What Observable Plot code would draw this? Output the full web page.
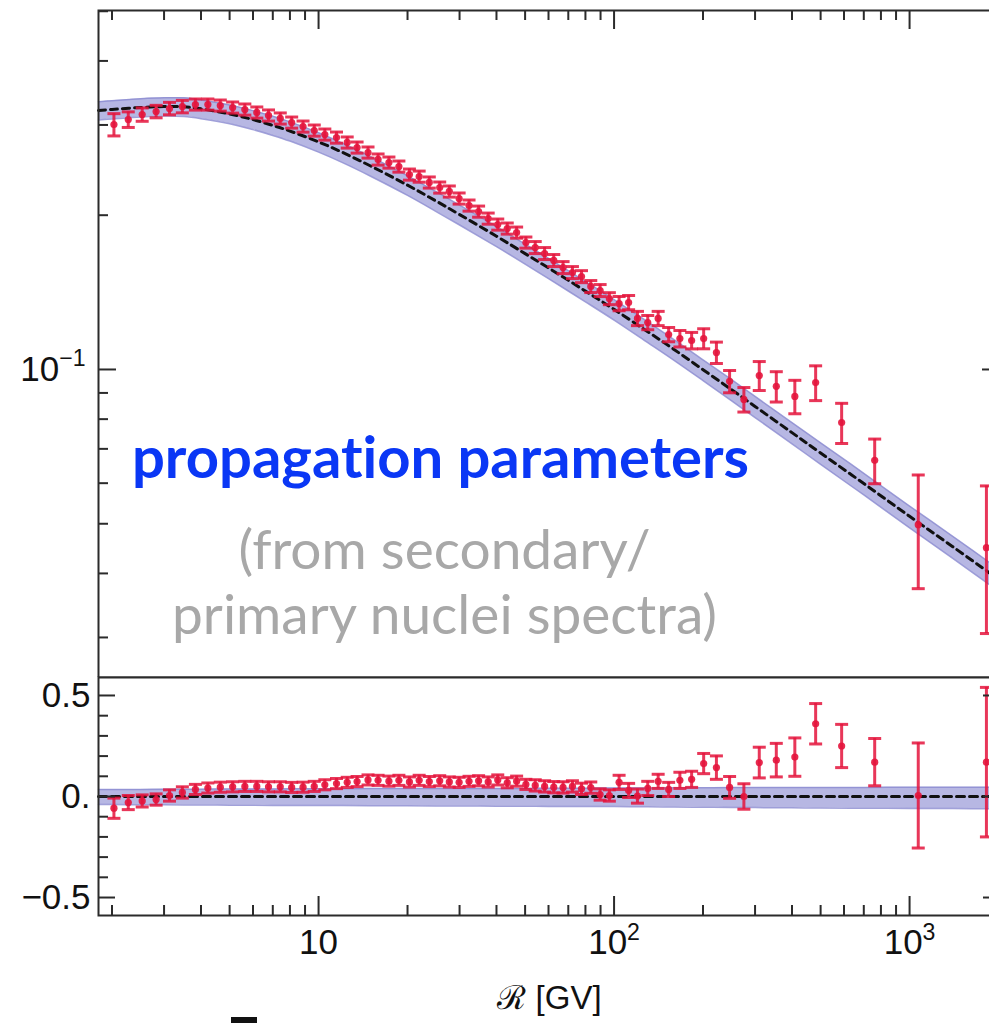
<!DOCTYPE html>
<html><head><meta charset="utf-8">
<script src="https://cdn.jsdelivr.net/npm/d3@7"></script>
<script src="https://cdn.jsdelivr.net/npm/@observablehq/plot@0.6"></script>
<style>
html,body{margin:0;padding:0;background:#fff;overflow:hidden;}
#wrap{position:relative;width:989px;height:1023px;overflow:hidden;}
#wrap svg{display:block;max-width:none !important;position:relative;}
#wrap svg.lower{margin-top:-30px;}
#wrap text{font-variant-ligatures:none;}
#mark{position:absolute;left:231px;top:1017px;width:26px;height:8px;background:#111;}
</style></head><body><div id="wrap"><div id="mark"></div></div>
<script>
// ---------- data ----------
const R = [2.03, 2.27, 2.53, 2.82, 3.13, 3.46, 3.83, 4.22, 4.65, 5.12, 5.63, 6.18, 6.77, 7.42, 8.11, 8.86, 9.67,
  10.5, 11.5, 12.5, 13.5, 14.7, 15.9, 17.3, 18.7, 20.3, 21.9, 23.7, 25.7, 27.7, 29.9, 32.3, 34.8, 37.5, 40.4, 43.5, 46.8,
  50.3, 54.1, 58.2, 62.5, 67.2, 72.3, 77.6, 83.4, 89.7, 96.4, 104, 112, 120, 130, 141, 153, 167, 183, 201, 222, 246, 275,
  310, 354, 409, 481, 589, 762, 1070, 1820];
const ratio = [0.3006, 0.3074, 0.3144, 0.3187, 0.3230, 0.3259, 0.3289, 0.3289, 0.3274, 0.3245, 0.3216, 0.3173, 0.3131,
  0.3089, 0.3033, 0.2979, 0.2926, 0.2874, 0.2835, 0.2773, 0.2711, 0.2651, 0.2569, 0.2534, 0.2489, 0.2401, 0.2379, 0.2317,
  0.2265, 0.2225, 0.2156, 0.2089, 0.2033, 0.1970, 0.1918, 0.1884, 0.1850, 0.1769, 0.1730, 0.1684, 0.1632, 0.1581, 0.1546,
  0.1518, 0.1452, 0.1426, 0.1375, 0.1345, 0.1351, 0.1258, 0.1235, 0.1258, 0.1170, 0.1149, 0.1139, 0.1149, 0.1079, 0.0948,
  0.0874, 0.0973, 0.0927, 0.0886, 0.0943, 0.0788, 0.0665, 0.0498, 0.0449];
const ratioRelErr = [0.050, 0.035, 0.030, 0.028, 0.028, 0.028,
  0.025, 0.025, 0.025, 0.025, 0.025, 0.025, 0.025, 0.025,
  0.025, 0.025, 0.025, 0.025, 0.025, 0.025, 0.025, 0.025,
  0.025, 0.025, 0.025, 0.025, 0.025, 0.025, 0.025, 0.025,
  0.025, 0.025, 0.025, 0.025, 0.025, 0.025, 0.025, 0.025,
  0.027, 0.027, 0.027, 0.027, 0.027, 0.027, 0.027, 0.027, 0.027,
  0.032, 0.032, 0.032, 0.032, 0.032, 0.032,
  0.037, 0.037,
  0.045, 0.048, 0.050, 0.055, 0.065, 0.068, 0.075, 0.078, 0.090, 0.100, 0.250, 0.320];
const resid = [-0.058, -0.030, -0.022, -0.015, 0.005, 0.020, 0.035, 0.042, 0.046, 0.048, 0.050, 0.050, 0.048, 0.048,
  0.045, 0.046, 0.050, 0.058, 0.064, 0.070, 0.074, 0.082, 0.080, 0.076, 0.080, 0.072, 0.080, 0.074, 0.078, 0.072, 0.070,
  0.075, 0.078, 0.072, 0.082, 0.068, 0.076, 0.060, 0.055, 0.050, 0.046, 0.045, 0.050, 0.038, 0.044, 0.010, 0.005, 0.070,
  0.030, 0.002, 0.040, 0.075, 0.035, 0.080, 0.085, 0.163, 0.143, 0.045, 0.000, 0.168, 0.180, 0.195, 0.360, 0.250, 0.170,
  0.005, 0.170];
const residErr = [0.050, 0.035, 0.030, 0.028, 0.028, 0.028,
  0.025, 0.025, 0.025, 0.025, 0.025, 0.025, 0.025, 0.025,
  0.025, 0.025, 0.025, 0.025, 0.025, 0.025, 0.025, 0.025,
  0.025, 0.025, 0.025, 0.025, 0.025, 0.025, 0.025, 0.025,
  0.025, 0.025, 0.025, 0.025, 0.025, 0.025, 0.025, 0.025,
  0.028, 0.028, 0.028, 0.028, 0.028, 0.028, 0.028, 0.028, 0.028,
  0.035, 0.035, 0.035, 0.035, 0.035, 0.035,
  0.040, 0.040,
  0.050, 0.058, 0.054, 0.063, 0.076, 0.083, 0.095, 0.100, 0.107, 0.117, 0.260, 0.370];

// model curve (dashed line + band)
const modelR = [1.8, 2, 2.5, 3, 3.5, 4, 5, 6, 7, 8, 10, 12, 15, 20, 25, 30, 40, 50, 60, 80, 100, 130, 160, 200, 250, 300,
  400, 500, 700, 1000, 1400, 2031];
const modelVal = [0.3202, 0.3216, 0.3245, 0.3259, 0.3255, 0.3225, 0.3153, 0.3073, 0.2994, 0.2919, 0.2780, 0.2655, 0.2495,
  0.2289, 0.2131, 0.2006, 0.1820, 0.1683, 0.1578, 0.1422, 0.1310, 0.1185, 0.1093, 0.0999, 0.0913, 0.0847, 0.0753, 0.0687,
  0.0599, 0.0517, 0.0451, 0.0387];
const bandLoRel = [0.042, 0.042, 0.042, 0.042, 0.043, 0.043, 0.043, 0.044, 0.044, 0.044, 0.045, 0.045, 0.045, 0.045,
  0.046, 0.046, 0.046, 0.046, 0.047, 0.047, 0.047, 0.048, 0.048, 0.048, 0.049, 0.049, 0.049, 0.050, 0.050, 0.051, 0.051, 0.052];
const bandHiRel = [0.040, 0.040, 0.040, 0.040, 0.041, 0.041, 0.041, 0.041, 0.042, 0.042, 0.042, 0.042, 0.043, 0.043,
  0.043, 0.043, 0.044, 0.044, 0.044, 0.044, 0.045, 0.045, 0.045, 0.045, 0.046, 0.046, 0.046, 0.047, 0.047, 0.047, 0.048, 0.048];
const resModel = [0, 0, 0, 0, 0, 0, 0, 0, 0, 0, 0, 0, 0, 0, 0, 0, 0, 0, 0, 0, 0, 0, 0, 0, 0, 0, 0, 0, 0, 0, 0, 0];
const resBandLo = [-0.040, -0.040, -0.041, -0.041, -0.042, -0.042, -0.043, -0.043, -0.044, -0.044, -0.045, -0.045, -0.046,
  -0.046, -0.047, -0.047, -0.048, -0.048, -0.049, -0.049, -0.050, -0.051, -0.052, -0.053, -0.054, -0.055, -0.056, -0.057,
  -0.058, -0.059, -0.060, -0.060];
const resBandHi = [0.035, 0.035, 0.035, 0.036, 0.036, 0.036, 0.037, 0.037, 0.037, 0.038, 0.038, 0.038, 0.039, 0.039, 0.039,
  0.040, 0.040, 0.040, 0.041, 0.041, 0.042, 0.042, 0.043, 0.043, 0.044, 0.044, 0.045, 0.045, 0.045, 0.046, 0.046, 0.046];

// scales & ticks
const xDomain = [1.8, 2031];
const topYDomain = [0.02506, 0.5017];
const resYDomain = [-0.589, 0.589];
const xMajorTicks = [10, 100, 1000];
const xTickLabels = ["10", "10^2", "10^3"];
const xMinorTicks = [2, 3, 4, 5, 6, 7, 8, 9, 20, 30, 40, 50, 60, 70, 80, 90, 200, 300, 400, 500, 600, 700, 800, 900, 2000];
const topYMajorTicks = [0.1];
const topYTickLabels = ["10^\u22121"];
const topYMinorTicks = [0.03, 0.04, 0.05, 0.06, 0.07, 0.08, 0.09, 0.2, 0.3, 0.4, 0.5];
const resYMajorTicks = [-0.5, 0, 0.5];
const resYTickLabels = ["\u22120.5", "0.", "0.5"];
const resYMinorTicks = [-0.4, -0.3, -0.2, -0.1, 0.1, 0.2, 0.3, 0.4];
const noteBlue = ["propagation parameters"];
const noteGrey = ["(from secondary/\nprimary nuclei spectra)"];
const xTitle = ["\u211B [GV]"];

// ---------- styles ----------
const RED = "#e4143c", AX = "#2b2b2b", BAND = "#a5a5dc", BANDEDGE = "#8a8ad0";
const FONT = "'Liberation Sans', Arial, Helvetica, sans-serif";
const W = 1010, ML = 98, MR = 10, PW = W - ML - MR;
const TOP_H = 677, TOP_MT = 10, TOP_PH = TOP_H - TOP_MT;
const BOT_MT = 30, BOT_PH = 238, BOT_MB = 108;
const MINOR = 10, MAJOR = 18, XMAJOR = 19;
const TICKFONT = 35;

const pts = R.map((r, i) => ({r, v: ratio[i], e: ratioRelErr[i], res: resid[i], re: residErr[i]}));
const model = modelR.map((r, i) => ({r, m: modelVal[i], lo: modelVal[i] * (1 - bandLoRel[i]), hi: modelVal[i] * (1 + bandHiRel[i]),
  rm: resModel[i], rlo: resBandLo[i], rhi: resBandHi[i]}));

const cap = {draw(ctx, size) { const w = Math.sqrt(size / Math.PI); ctx.moveTo(-w, 0); ctx.lineTo(w, 0); }};
const lookup = (keys, labels) => { const m = new Map(keys.map((k, i) => [k, labels[i]])); return d => m.get(d); };

function supify(svg) {
  d3.select(svg).selectAll("text").each(function () {
    const t = this.textContent;
    if (t.includes("^") && this.children.length === 0) {
      const [b, e] = t.split("^");
      const s = d3.select(this); s.text(null);
      s.append("tspan").text(b);
      s.append("tspan").attr("font-size", "0.66em").attr("dy", "-0.62em").text(e);
    }
  });
}

const curve = "catmull-rom";
const errMarks = (y1, y2, y) => [
  Plot.ruleX(pts, {x: "r", y1, y2, stroke: RED, strokeWidth: 3, strokeOpacity: 0.85}),
  Plot.dot(pts, {x: "r", y: y1, symbol: cap, r: 6.5, stroke: RED, strokeWidth: 3, strokeOpacity: 0.85, fill: "none"}),
  Plot.dot(pts, {x: "r", y: y2, symbol: cap, r: 6.5, stroke: RED, strokeWidth: 3, strokeOpacity: 0.85, fill: "none"}),
  Plot.dot(pts, {x: "r", y, r: 3.6, fill: RED, fillOpacity: 0.9})
];
const tk = {stroke: AX, strokeWidth: 2};

const topChart = Plot.plot({
  width: W, height: TOP_H, marginTop: TOP_MT, marginBottom: 0, marginLeft: ML, marginRight: MR,
  style: {background: "transparent", fontFamily: FONT, color: "#111"},
  x: {type: "log", domain: xDomain, axis: null},
  y: {type: "log", domain: topYDomain},
  marks: [
    Plot.areaY(model, {x: "r", y1: "lo", y2: "hi", fill: BAND, fillOpacity: 0.8, curve}),
    Plot.line(model, {x: "r", y: "lo", stroke: BANDEDGE, strokeWidth: 1.5, strokeOpacity: 0.8, curve}),
    Plot.line(model, {x: "r", y: "hi", stroke: BANDEDGE, strokeWidth: 1.5, strokeOpacity: 0.8, curve}),
    Plot.line(model, {x: "r", y: "m", stroke: "#111", strokeWidth: 3, strokeDasharray: "7,5", curve}),
    ...errMarks(d => d.v * (1 - d.e), d => d.v * (1 + d.e), "v"),
    Plot.tickY(topYMinorTicks, {y: d => d, insetRight: PW - MINOR, ...tk}),
    Plot.tickY(topYMinorTicks, {y: d => d, insetLeft: PW - MINOR, ...tk}),
    Plot.tickY(topYMajorTicks, {y: d => d, insetRight: PW - MAJOR, ...tk}),
    Plot.tickY(topYMajorTicks, {y: d => d, insetLeft: PW - MAJOR, ...tk}),
    Plot.tickX(xMinorTicks, {x: d => d, insetBottom: TOP_PH - MINOR, ...tk}),
    Plot.tickX(xMajorTicks, {x: d => d, insetBottom: TOP_PH - XMAJOR, ...tk}),
    Plot.frame({stroke: AX, strokeWidth: 2}),
    Plot.axisY(topYMajorTicks, {tickSize: 0, tickPadding: 13, fontSize: TICKFONT, label: null, tickFormat: lookup(topYMajorTicks, topYTickLabels)}),
    Plot.text(noteBlue, {frameAnchor: "top", dx: -109, dy: 467, lineAnchor: "bottom", textAnchor: "middle",
      fill: "#0a37f5", fontSize: 58, fontWeight: "bold", fontFamily: "Lato, 'Open Sans', sans-serif"}),
    Plot.text(noteGrey, {frameAnchor: "top", dx: -105, dy: 623, lineAnchor: "bottom", textAnchor: "middle", lineHeight: 1.18,
      fill: "#a8a8a8", fontSize: 55, fontFamily: "Lato, 'Open Sans', sans-serif"})
  ]
});

const bottomChart = Plot.plot({
  width: W, height: BOT_MT + BOT_PH + BOT_MB, marginTop: BOT_MT, marginBottom: BOT_MB, marginLeft: ML, marginRight: MR,
  className: "lower",
  style: {background: "transparent", fontFamily: FONT, color: "#111"},
  x: {type: "log", domain: xDomain},
  y: {domain: resYDomain},
  marks: [
    Plot.areaY(model, {x: "r", y1: "rlo", y2: "rhi", fill: BAND, fillOpacity: 0.8, curve}),
    Plot.line(model, {x: "r", y: "rlo", stroke: BANDEDGE, strokeWidth: 1.5, strokeOpacity: 0.8, curve}),
    Plot.line(model, {x: "r", y: "rhi", stroke: BANDEDGE, strokeWidth: 1.5, strokeOpacity: 0.8, curve}),
    Plot.line(model, {x: "r", y: "rm", stroke: "#111", strokeWidth: 3, strokeDasharray: "8,5"}),
    ...errMarks(d => d.res - d.re, d => d.res + d.re, "res"),
    Plot.tickY(resYMinorTicks, {y: d => d, insetRight: PW - MINOR, ...tk}),
    Plot.tickY(resYMinorTicks, {y: d => d, insetLeft: PW - MINOR, ...tk}),
    Plot.tickY(resYMajorTicks, {y: d => d, insetRight: PW - 17, ...tk}),
    Plot.tickY(resYMajorTicks, {y: d => d, insetLeft: PW - 17, ...tk}),
    Plot.tickX(xMinorTicks, {x: d => d, insetTop: BOT_PH - MINOR, ...tk}),
    Plot.tickX(xMajorTicks, {x: d => d, insetTop: BOT_PH - XMAJOR, ...tk}),
    Plot.frame({stroke: AX, strokeWidth: 2}),
    Plot.axisY(resYMajorTicks, {tickSize: 0, tickPadding: 8, fontSize: TICKFONT, label: null, tickFormat: lookup(resYMajorTicks, resYTickLabels)}),
    Plot.axisX(xMajorTicks, {tickSize: 0, tickPadding: 14, fontSize: TICKFONT, label: null, tickFormat: lookup(xMajorTicks, xTickLabels)}),
    Plot.text(xTitle, {frameAnchor: "bottom", dy: 93, lineAnchor: "bottom", textAnchor: "middle", fontSize: 33, fill: "#111"})
  ]
});

supify(topChart); supify(bottomChart);
bottomChart.classList.add("lower");
const wrap = document.getElementById("wrap");
wrap.insertBefore(bottomChart, wrap.firstChild);
wrap.insertBefore(topChart, bottomChart);
</script></body></html>
